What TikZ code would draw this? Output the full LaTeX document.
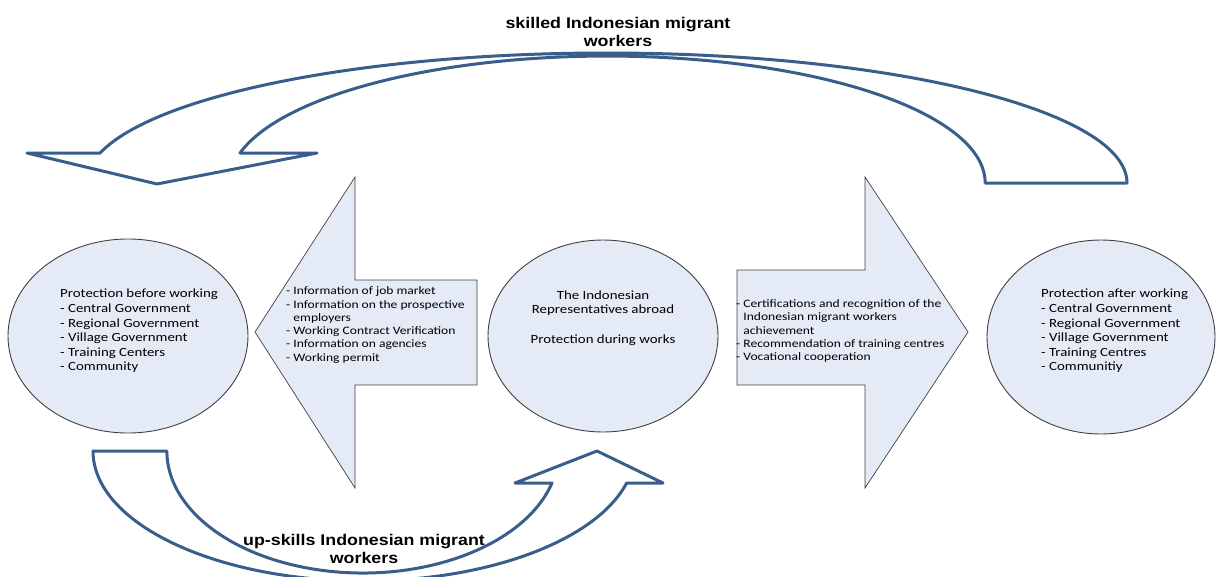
\documentclass[tikz,border=0pt]{standalone}
\usepackage{fontspec}
\setmainfont[FakeStretch=1.19]{Carlito}
\newfontfamily\labelfont[FakeStretch=1.15]{Liberation Sans}
\usetikzlibrary{shapes.geometric}
\definecolor{fillblue}{RGB}{229,235,246}
\definecolor{arrowblue}{RGB}{58,94,140}
\definecolor{edgegray}{RGB}{64,64,64}
\tikzset{
  stage/.style={shape=ellipse, draw=edgegray, fill=fillblue, line width=0.9pt, inner sep=0pt},
  blockarrow/.style={draw=edgegray, fill=fillblue, line width=0.7pt},
  bendarrow/.style={draw=arrowblue, fill=white, line width=3pt, line join=round},
  stagetext/.style={align=left, font=\fontsize{12.5}{14.6}\selectfont, inner sep=0pt},
  arrowtext/.style={align=left, font=\fontsize{11.4}{13.3}\selectfont, inner sep=0pt},
  flowlabel/.style={align=center, font=\labelfont\bfseries\fontsize{15.5}{18}\selectfont, inner sep=0pt}
}
\begin{document}
\begin{tikzpicture}[x=1pt, y=-1pt]
\useasboundingbox (0,0) rectangle (1216,576);
\node[stage, minimum width=240pt, minimum height=194pt] (before) at (128,336) {};
\node[stage, minimum width=230pt, minimum height=192pt] (during) at (603,336) {};
\node[stage, minimum width=228pt, minimum height=194pt] (after) at (1101,337) {};
\node[stagetext, anchor=west] (beforetext) at (60,331) {Protection before working\\- Central Government\\- Regional Government\\- Village Government\\- Training Centers\\- Community};
\node[stagetext, align=center] (duringtext) at (603,318) {The Indonesian\\Representatives abroad\\[14.6pt]Protection during works};
\node[stagetext, anchor=west] (aftertext) at (1041,331) {Protection after working\\- Central Government\\- Regional Government\\- Village Government\\- Training Centres\\- Communitiy};
\draw[blockarrow] (477,280) -- (355,280) -- (355,177) -- (255,332) -- (355,488) -- (355,385) -- (477,385) -- cycle;
\draw[blockarrow] (737,270) -- (865,270) -- (865,177) -- (968,332) -- (865,488) -- (865,385) -- (737,385) -- cycle;
\node[arrowtext, anchor=west] (backinfo) at (286,325) {- Information of job market\\- Information on the prospective\\\phantom{- }employers\\- Working Contract Verification\\- Information on agencies\\- Working permit};
\node[arrowtext, anchor=west] (forwardinfo) at (736,331) {- Certifications and recognition of the\\\phantom{- }Indonesian migrant workers\\\phantom{- }achievement\\- Recommendation of training centres\\- Vocational cooperation};
\draw[bendarrow] (1127,183) arc[start angle=0, end angle=-166.7, x radius=520.5, y radius=130] -- (27,153) -- (157,184) -- (317,153) -- (240,153) arc[start angle=-166.3, end angle=0, x radius=378, y radius=127] -- cycle;
\draw[bendarrow] (93,451) arc[start angle=180, end angle=14.25, x radius=271, y radius=130] -- (663,483) -- (597,451) -- (515,483) -- (552,483) arc[start angle=15.2, end angle=180, x radius=196, y radius=122] -- cycle;
\node[flowlabel] (skilled) at (618,32) {skilled Indonesian migrant\\workers};
\node[flowlabel] (upskills) at (364,549) {up-skills Indonesian migrant\\workers};
\end{tikzpicture}
\end{document}
